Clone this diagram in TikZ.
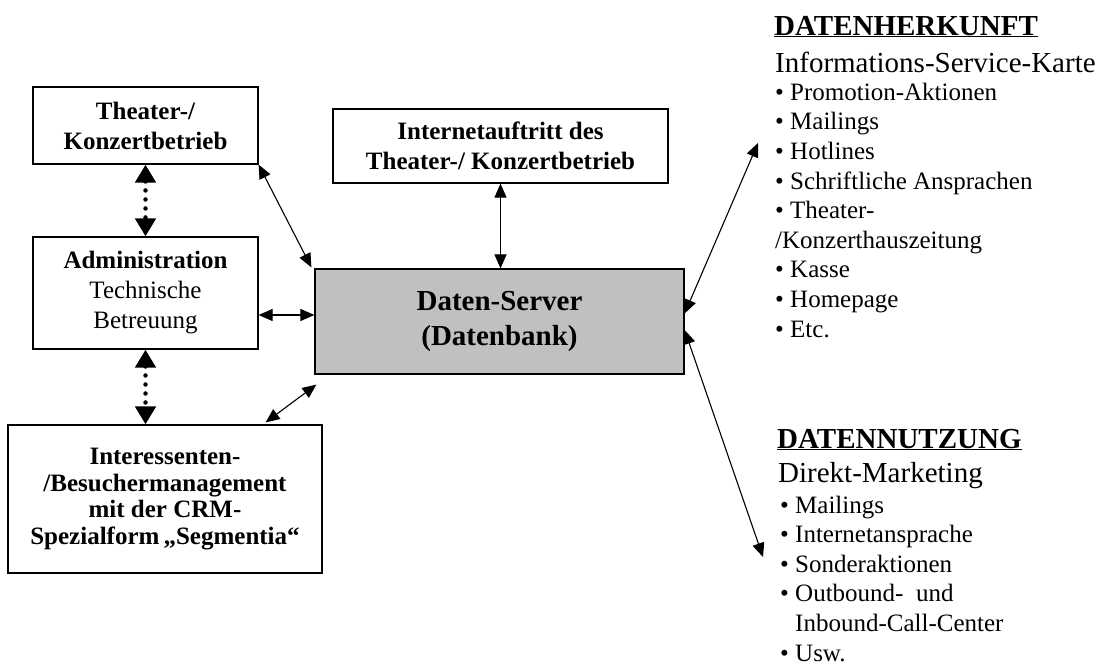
\documentclass[tikz,border=0pt]{standalone}
\usepackage{fontspec}
\setmainfont{Liberation Serif}
\usepackage{xcolor}
\usetikzlibrary{arrows.meta}

\definecolor{srvgray}{RGB}{192,192,192}

\tikzset{
  box/.style={draw, line width=1.2pt, fill=white, align=center, inner sep=0pt,
    font=\bfseries\fontsize{25}{30}\selectfont},
  lnk/.style={line width=1.1pt, {Triangle[length=14pt,width=12pt]}-{Triangle[length=14pt,width=12pt]}},
  dotlnk/.style={line width=4.5pt, dash pattern=on 0pt off 9pt, line cap=round,
    {Triangle[length=18pt,width=20pt]}-{Triangle[length=18pt,width=20pt]}},
  head/.style={anchor=base west, inner sep=0pt, font=\bfseries\fontsize{29}{30}\selectfont},
  sub/.style={anchor=base west, inner sep=0pt, font=\fontsize{29}{30}\selectfont},
  liste/.style={anchor=base west, inner sep=0pt, align=left, font=\fontsize{25}{29.6}\selectfont}
}

\begin{document}
\begin{tikzpicture}[x=1pt, y=-1pt]

\useasboundingbox (0,0) rectangle (1098,665);

\node[box, minimum width=225, minimum height=77] (kbt) at (145.5,125.5) {Theater-/\\Konzertbetrieb};
\node[box, minimum width=225, minimum height=112] (adm) at (145.5,293)
  {Administration\\\mdseries Technische\\\mdseries Betreuung};
\node[box, minimum width=314, minimum height=148, font=\bfseries\fontsize{25}{26.7}\selectfont] (crm) at (165,499)
  {Interessenten-\\/Besuchermanagement\\mit der CRM-\\Spezialform\,„Segmentia“};
\node[box, minimum width=335, minimum height=74] (inet) at (500.5,146)
  {Internetauftritt des\\Theater-/ Konzertbetrieb};
\node[box, fill=srvgray, minimum width=369, minimum height=105, font=\bfseries\fontsize{29}{35}\selectfont] (srv) at (499.5,321.5)
  {Daten-Server\\(Datenbank)};

% Verbindungen links
\draw[dotlnk] (kbt.south) -- (adm.north);
\draw[dotlnk] (adm.south) -- (crm.north -| adm.south);
\draw[lnk] (kbt.south east) -- ([xshift=-3pt,yshift=1pt]srv.north west);
\draw[lnk] ([yshift=-22pt]adm.east) -- ([yshift=6.5pt]srv.west);
\draw[lnk] ([xshift=-57pt,yshift=2pt]crm.north east) -- ([xshift=2pt,yshift=-10pt]srv.south west);
\draw[lnk] (inet.south) -- (inet.south |- srv.north);

% Datenherkunft
\node[head] (herkT) at (774,35) {\underline{DATENHERKUNFT}};
\node[sub] (herkS) at (775,72) {Informations-Service-Karte};
\node[liste] (herkL) at (775,337) {\textbullet\ Promotion-Aktionen\\
  \textbullet\ Mailings\\
  \textbullet\ Hotlines\\
  \textbullet\ Schriftliche Ansprachen\\
  \textbullet\ Theater-\\
  /Konzerthauszeitung\\
  \textbullet\ Kasse\\
  \textbullet\ Homepage\\
  \textbullet\ Etc.};

% Datennutzung
\node[head] (nutzT) at (777,448) {\underline{DATENNUTZUNG}};
\node[sub] (nutzS) at (778,482) {Direkt-Marketing};
\node[liste] (nutzL) at (780,661) {\textbullet\ Mailings\\
  \textbullet\ Internetansprache\\
  \textbullet\ Sonderaktionen\\
  \textbullet\ Outbound-\ \ und\\
  \phantom{\textbullet\ }Inbound-Call-Center\\
  \textbullet\ Usw.};

\coordinate (herk) at (758,143);
\coordinate (nutz) at (763,557);
\draw[lnk] ([yshift=8pt]srv.east) -- (herk);
\draw[lnk] ([yshift=-8.5pt]srv.east) -- (nutz);

\end{tikzpicture}
\end{document}
